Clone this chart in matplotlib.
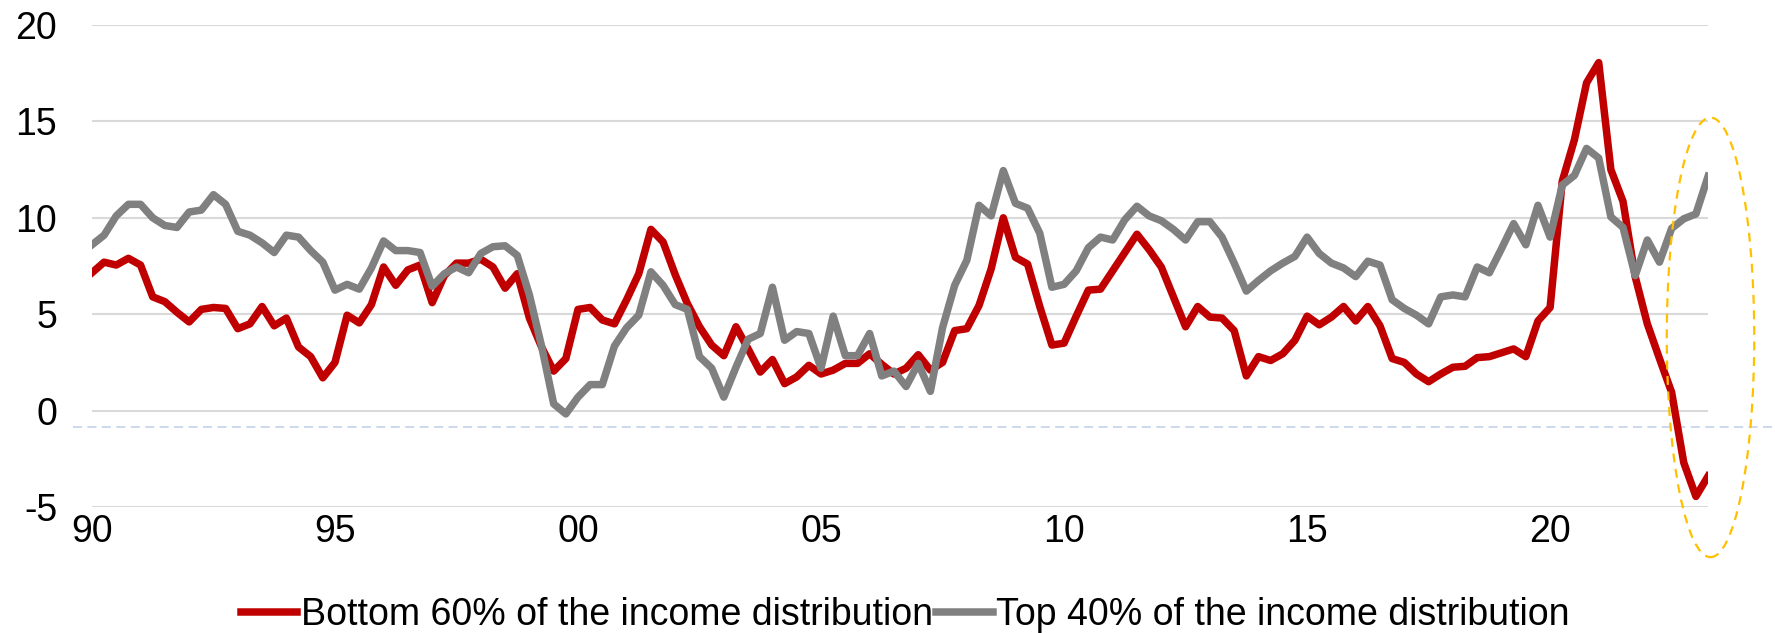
import numpy as np
import matplotlib
matplotlib.use('Agg')
import matplotlib.pyplot as plt
from matplotlib.patches import Ellipse

plt.rcParams['font.family'] = ['Liberation Sans', 'DejaVu Sans']

# quarterly y/y growth, 1990Q1 .. 2023Q2
start_year = 1990
bottom60 = [
    7.15, 7.7, 7.55, 7.9, 7.55, 5.9, 5.65, 5.1, 4.6, 5.25,
    5.35, 5.3, 4.25, 4.5, 5.4, 4.4, 4.8, 3.3, 2.8, 1.7,
    2.5, 4.95, 4.55, 5.5, 7.45, 6.5, 7.3, 7.55, 5.6, 7.0,
    7.65, 7.65, 7.85, 7.45, 6.35, 7.1, 4.8, 3.3, 2.05, 2.7,
    5.25, 5.35, 4.7, 4.5, 5.75, 7.1, 9.4, 8.75, 7.05, 5.55,
    4.35, 3.4, 2.85, 4.35, 3.2, 2.0, 2.65, 1.4, 1.75, 2.35,
    1.9, 2.1, 2.45, 2.45, 2.95, 2.4, 1.9, 2.2, 2.9, 2.1,
    2.5, 4.15, 4.25, 5.45, 7.35, 10.0, 7.95, 7.6, 5.4, 3.4,
    3.5, 4.9, 6.25, 6.3, 7.25, 8.2, 9.15, 8.35, 7.45, 5.9,
    4.35, 5.4, 4.85, 4.8, 4.15, 1.8, 2.8, 2.6, 2.95, 3.65,
    4.9, 4.45, 4.85, 5.4, 4.65, 5.4, 4.4, 2.7, 2.5, 1.9,
    1.5, 1.9, 2.25, 2.3, 2.75, 2.8, 3.0, 3.2, 2.8, 4.65,
    5.35, 11.9, 14.05, 17.0, 18.05, 12.5, 10.85, 6.95, 4.5, 2.7,
    0.95, -2.7, -4.45, -3.4,
]
top40 = [
    8.6, 9.1, 10.1, 10.7, 10.7, 10.0, 9.6, 9.5, 10.3, 10.4,
    11.2, 10.7, 9.3, 9.1, 8.7, 8.2, 9.1, 9.0, 8.3, 7.7,
    6.25, 6.55, 6.3, 7.4, 8.8, 8.3, 8.3, 8.2, 6.45, 7.1,
    7.45, 7.15, 8.15, 8.5, 8.55, 8.05, 6.0, 3.35, 0.35, -0.17,
    0.7, 1.35, 1.35, 3.35, 4.3, 4.95, 7.2, 6.5, 5.5, 5.25,
    2.8, 2.2, 0.7, 2.25, 3.7, 4.0, 6.4, 3.65, 4.1, 4.0,
    2.2, 4.9, 2.85, 2.85, 4.0, 1.8, 2.05, 1.25, 2.45, 1.0,
    4.3, 6.5, 7.8, 10.65, 10.1, 12.45, 10.75, 10.5, 9.2, 6.4,
    6.55, 7.25, 8.45, 9.0, 8.85, 9.9, 10.6, 10.1, 9.85, 9.4,
    8.85, 9.8, 9.8, 9.0, 7.65, 6.2, 6.75, 7.25, 7.65, 8.0,
    9.0, 8.15, 7.65, 7.4, 6.95, 7.75, 7.55, 5.75, 5.3, 4.95,
    4.5, 5.9, 6.0, 5.9, 7.45, 7.15, 8.4, 9.7, 8.6, 10.65,
    9.0, 11.7, 12.2, 13.6, 13.1, 10.05, 9.5, 7.0, 8.85, 7.7,
    9.45, 9.95, 10.2, 12.15,
]
labels = ['Bottom 60% of the income distribution',
          'Top 40% of the income distribution']
tick_years = [1990, 1995, 2000, 2005, 2010, 2015, 2020]
tick_labels = ['90', '95', '00', '05', '10', '15', '20']
y_ticks = [-5, 0, 5, 10, 15, 20]

ref_level = -0.87          # dashed reference line
ellipse_center = (2023.3, 3.8)
ellipse_size = (1.8, 22.8)

x = start_year + np.arange(len(bottom60)) / 4.0

fig = plt.figure(figsize=(17.75, 6.33), dpi=100)
ax = fig.add_axes([0.0518, 0.199, 0.9105, 0.7615])

ax.plot(x, bottom60, color='#C00000', lw=5.4, label=labels[0], zorder=3)
ax.plot(x, top40, color='#808080', lw=5.4, label=labels[1], zorder=3)

ax.set_xlim(x[0], x[-1])
ax.set_ylim(-5, 20)
ax.set_yticks(y_ticks)
ax.set_yticklabels([str(v) for v in y_ticks])
ax.set_xticks(tick_years)
ax.set_xticklabels(tick_labels)
ax.tick_params(axis='both', length=0, labelsize=27, colors='black')
ax.tick_params(axis='y', pad=25)
ax.tick_params(axis='x', pad=5)
ax.grid(axis='y', color='#D9D9D9', lw=1.5)
ax.set_axisbelow(True)
for s in ax.spines.values():
    s.set_visible(False)

# dashed reference line running past the plot area to the right
x0 = (73 - 92) / 1616.0
x1 = (1775 - 92) / 1616.0
ax.axhline(ref_level, xmin=x0, xmax=x1, color='#C9D6EC', lw=1.3,
           ls=(0, (5, 3)), clip_on=False, zorder=1)

ell = Ellipse(ellipse_center, ellipse_size[0], ellipse_size[1], fill=False,
              edgecolor='#FFC000', lw=1.6, ls=(0, (4, 3)), clip_on=False, zorder=4)
ax.add_patch(ell)

fig.legend(loc='center', bbox_to_anchor=(0.51, 0.028), ncol=2, frameon=False,
           fontsize=27, handlelength=1.5, handletextpad=0.1, columnspacing=0.1,
           borderpad=0)

fig.savefig('out.png', dpi=100)
